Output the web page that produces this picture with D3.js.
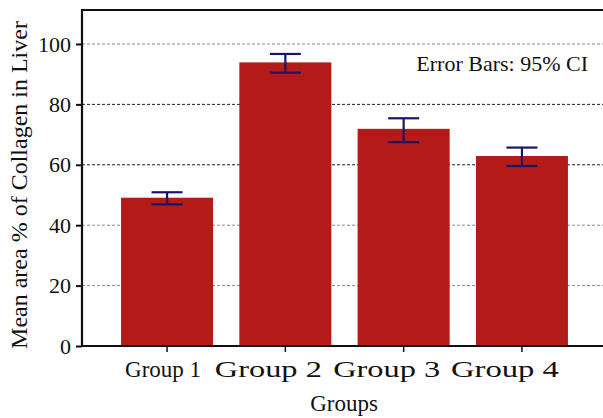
<!DOCTYPE html>
<html>
<head>
<meta charset="utf-8">
<script src="https://cdn.jsdelivr.net/npm/d3@7"></script>
<style>
  body { margin: 0; background: #fff; }
  svg text { font-family: "Liberation Serif", "Times New Roman", serif; fill: #111; }
</style>
</head>
<body>
<script>
const groups = ["Group 1", "Group 2", "Group 3", "Group 4"]
const means = [49.1, 93.9, 71.9, 62.9]
const ciLow = [46.9, 90.5, 67.5, 59.6]
const ciHigh = [50.9, 96.7, 75.4, 65.7]
const yTicks = [0, 20, 40, 60, 80, 100]

const width = 603, height = 418
const plotLeft = 82, plotRight = 607, plotTop = 10, plotBottom = 346
const serif = '"Liberation Serif", "Times New Roman", serif'

const svg = d3.select("body").append("svg")
    .attr("width", width)
    .attr("height", height)

const x = d3.scaleBand()
    .domain(groups)
    .range([plotLeft, plotRight])
    .paddingInner(0.222)
    .paddingOuter(0.33)

const y = d3.scaleLinear()
    .domain([0, 111.25])
    .range([plotBottom, plotTop])

// grid lines
svg.append("g")
    .selectAll("line")
    .data(yTicks.filter(d => d > 0))
    .enter()
    .append("line")
    .attr("x1", plotLeft)
    .attr("x2", plotRight)
    .attr("y1", d => y(d))
    .attr("y2", d => y(d))
    .attr("stroke", d => (d == 60 || d == 80) ? "#222" : "#8a8a8a")
    .attr("stroke-width", 1)
    .attr("stroke-dasharray", "3,2")

// bars
svg.append("g")
    .selectAll("rect")
    .data(groups)
    .enter()
    .append("rect")
    .attr("x", d => x(d))
    .attr("y", (d, i) => y(means[i]))
    .attr("width", x.bandwidth())
    .attr("height", (d, i) => plotBottom - y(means[i]))
    .attr("fill", "#b21b17")

// error bars
const capW = 15.5
const eb = svg.append("g")
    .attr("stroke", "#1c1565")
    .attr("stroke-width", 2.2)
groups.forEach((g, i) => {
    let cx = x(g) + x.bandwidth() / 2
    eb.append("line").attr("x1", cx).attr("x2", cx).attr("y1", y(ciHigh[i])).attr("y2", y(ciLow[i]))
    eb.append("line").attr("x1", cx - capW).attr("x2", cx + capW).attr("y1", y(ciHigh[i])).attr("y2", y(ciHigh[i]))
    eb.append("line").attr("x1", cx - capW).attr("x2", cx + capW).attr("y1", y(ciLow[i])).attr("y2", y(ciLow[i]))
})

// y axis
const yAxis = svg.append("g")
    .attr("transform", `translate(${plotLeft},0)`)
    .call(d3.axisLeft(y).tickValues(yTicks).tickSize(6).tickPadding(5))
yAxis.attr("font-family", null).attr("font-size", null)
yAxis.select(".domain").remove()
yAxis.selectAll(".tick line").attr("stroke", "#111").attr("stroke-width", 2)
yAxis.selectAll(".tick text")
    .style("font-family", serif)
    .style("font-size", "22px")
    .attr("fill", "#111")

// x axis
const xAxis = svg.append("g")
    .attr("transform", `translate(0,${plotBottom})`)
    .call(d3.axisBottom(x).tickSize(6).tickFormat(""))
xAxis.select(".domain").remove()
xAxis.selectAll(".tick line").attr("stroke", "#111").attr("stroke-width", 1.5)

// group labels (first one is narrower in the original)
const labelShift = [-4, -17, -17, -17]
const labelLen = [76, 107, 107, 108]
svg.append("g")
    .selectAll("text")
    .data(groups)
    .enter()
    .append("text")
    .attr("x", (d, i) => x(d) + x.bandwidth() / 2 + labelShift[i] - labelLen[i] / 2)
    .attr("y", 377)
    .style("font-size", "23px")
    .attr("textLength", (d, i) => labelLen[i])
    .attr("lengthAdjust", "spacingAndGlyphs")
    .text(d => d)

// frame
svg.append("path")
    .attr("d", `M${plotRight},${plotTop}H${plotLeft}V${plotBottom}H${plotRight}`)
    .attr("fill", "none")
    .attr("stroke", "#111")
    .attr("stroke-width", 2.2)

svg.append("text")
    .attr("x", 588)
    .attr("y", 71)
    .attr("text-anchor", "end")
    .style("font-size", "22px")
    .text("Error Bars: 95% CI")

svg.append("text")
    .attr("x", 344)
    .attr("y", 411)
    .attr("text-anchor", "middle")
    .style("font-size", "23px")
    .text("Groups")

svg.append("text")
    .attr("transform", `translate(27,185) rotate(-90)`)
    .attr("text-anchor", "middle")
    .style("font-size", "24px")
    .text("Mean area % of Collagen in Liver")
</script>
</body>
</html>
